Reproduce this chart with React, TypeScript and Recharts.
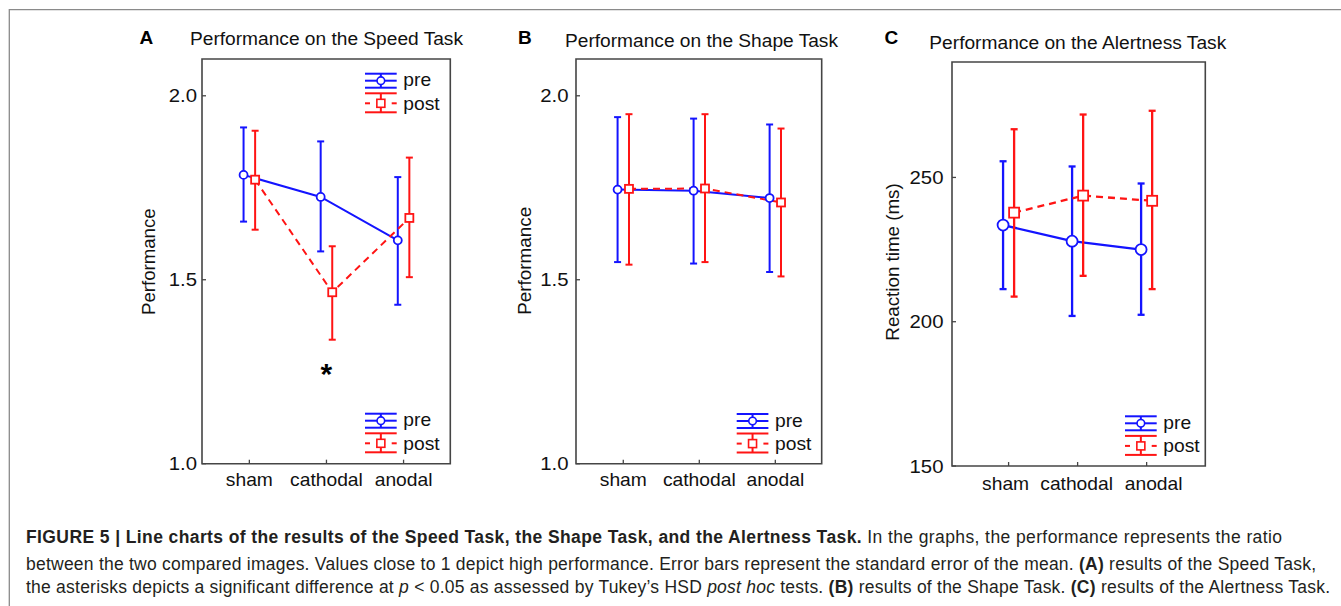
import React from 'react';
import { LineChart, Line, XAxis, YAxis, ErrorBar, ReferenceDot, ReferenceArea } from 'recharts';

const FONT = '"Liberation Sans", Arial, Helvetica, sans-serif';
const BLUE = '#1414ff';
const RED = '#ff1414';
const FRAME = '#454545';
const TEXT = '#111111';
const SX = 1.1;

// ---------- data ----------
const categories = ['sham', 'cathodal', 'anodal'];
const categoryIndex = [0, 1, 2];

// A: Speed Task
const speedPreMean = [1.785, 1.725, 1.607];
const speedPreHigh = [1.914, 1.876, 1.779];
const speedPreLow = [1.658, 1.577, 1.432];
const speedPostMean = [1.772, 1.466, 1.668];
const speedPostHigh = [1.905, 1.591, 1.832];
const speedPostLow = [1.636, 1.337, 1.507];
const speedAsterisk = { category: 1, value: 1.265 };

// B: Shape Task
const shapePreMean = [1.745, 1.742, 1.722];
const shapePreHigh = [1.942, 1.938, 1.922];
const shapePreLow = [1.548, 1.544, 1.521];
const shapePostMean = [1.747, 1.748, 1.71];
const shapePostHigh = [1.95, 1.95, 1.911];
const shapePostLow = [1.541, 1.548, 1.509];

// C: Alertness Task (ms)
const alertPreMean = [233.5, 227.9, 225.0];
const alertPreHigh = [255.6, 253.8, 247.9];
const alertPreLow = [211.3, 202.0, 202.4];
const alertPostMean = [237.8, 243.7, 241.9];
const alertPostHigh = [266.7, 271.8, 273.1];
const alertPostLow = [208.7, 215.9, 211.3];

const perfTicks = [1.0, 1.5, 2.0];
const rtTicks = [150, 200, 250];

type Pt = { x: number; y: number; err: [number, number] };

function buildSeries(means: number[], highs: number[], lows: number[], shift: number): Pt[] {
  return means.map((m, i) => ({ x: categoryIndex[i] + shift, y: m, err: [m - lows[i], highs[i] - m] }));
}

// ---------- helpers ----------
type Frame = { l: number; t: number; r: number; b: number };
const PAD = { l: 90, t: 22, r: 20, b: 42 };

function circleDot(r: number, color: string, sw: number) {
  return (p: any) => (
    <circle key={`c${p.index}`} cx={p.cx} cy={p.cy} r={r} fill="#fff" stroke={color} strokeWidth={sw} />
  );
}
function squareDot(s: number, color: string, sw: number) {
  return (p: any) => (
    <rect key={`s${p.index}`} x={p.cx - s / 2} y={p.cy - s / 2} width={s} height={s} fill="#fff" stroke={color} strokeWidth={sw} />
  );
}

interface PanelProps {
  frame: Frame;
  xDomain: [number, number];
  yDomain: [number, number];
  yTicks: number[];
  yFormat: (v: number) => string;
  pre: Pt[];
  post: Pt[];
  circleR: number;
  squareS: number;
  lineW: number;
  yGap: number;
  xBase: number;
  labelNudge: number[];
  asterisk?: { category: number; value: number };
}

function Panel(p: PanelProps) {
  const { frame } = p;
  const left = frame.l - PAD.l;
  const top = frame.t - PAD.t;
  const width = frame.r - frame.l + PAD.l + PAD.r;
  const height = frame.b - frame.t + PAD.t + PAD.b;
  const tl = { stroke: FRAME, strokeWidth: 1.3 };
  return (
    <div style={{ position: 'absolute', left, top, width, height }}>
      <LineChart
        width={width}
        height={height}
        margin={{ left: PAD.l - 50, top: PAD.t - 1, right: PAD.r, bottom: PAD.b - 30 }}
      >
        <XAxis
          xAxisId="top"
          orientation="top"
          type="number"
          domain={p.xDomain}
          ticks={categoryIndex}
          allowDataOverflow
          height={1}
          axisLine={false}
          tickLine={tl}
          tickSize={-4}
          tick={() => <g />}
          interval={0}
        />
        <XAxis
          type="number"
          dataKey="x"
          domain={p.xDomain}
          ticks={categoryIndex}
          allowDataOverflow
          height={30}
          axisLine={false}
          tickLine={tl}
          tickSize={-4}
          tickMargin={4}
          interval={0}
          tick={(t: any) => (
            <g transform={`translate(${t.x + (p.labelNudge[t.payload.value] || 0)},${t.y + p.xBase}) scale(${SX},1)`}>
              <text x={0} y={0} textAnchor="middle" fontFamily={FONT} fontSize={17.5} fill={TEXT}>
                {categories[t.payload.value]}
              </text>
            </g>
          )}
        />
        <YAxis
          type="number"
          domain={p.yDomain}
          ticks={p.yTicks}
          allowDataOverflow
          width={50}
          axisLine={false}
          tickLine={tl}
          tickSize={-4}
          tickMargin={4}
          interval={0}
          tick={(t: any) => (
            <g transform={`translate(${t.x - p.yGap},${t.y + 6.6}) scale(${SX},1)`}>
              <text x={0} y={0} textAnchor="end" fontFamily={FONT} fontSize={18.5} fill={TEXT}>
                {p.yFormat(t.payload.value)}
              </text>
            </g>
          )}
        />
        <ReferenceArea
          x1={p.xDomain[0]}
          x2={p.xDomain[1]}
          y1={p.yDomain[0]}
          y2={p.yDomain[1]}
          fill="none"
          fillOpacity={0}
          stroke={FRAME}
          strokeWidth={1.6}
          strokeOpacity={1}
        />
        <Line
          data={p.pre}
          dataKey="y"
          type="linear"
          stroke={BLUE}
          strokeWidth={p.lineW}
          isAnimationActive={false}
          dot={circleDot(p.circleR, BLUE, 1.8)}
          activeDot={false}
        >
          <ErrorBar dataKey="err" width={3.5} strokeWidth={p.lineW} stroke={BLUE} direction="y" isAnimationActive={false} />
        </Line>
        <Line
          data={p.post}
          dataKey="y"
          type="linear"
          stroke={RED}
          strokeWidth={p.lineW}
          strokeDasharray="7 5"
          isAnimationActive={false}
          dot={squareDot(p.squareS, RED, 1.8)}
          activeDot={false}
        >
          <ErrorBar dataKey="err" width={3.5} strokeWidth={p.lineW} stroke={RED} direction="y" isAnimationActive={false} />
        </Line>
        {p.asterisk && (
          <ReferenceDot
            x={p.asterisk.category}
            y={p.asterisk.value}
            r={0}
            shape={(d: any) => (
              <text x={d.cx} y={d.cy + 18} textAnchor="middle" fontFamily={FONT} fontWeight="bold" fontSize={30} fill="#000">
                *
              </text>
            )}
          />
        )}
      </LineChart>
    </div>
  );
}

function LegendMark({ x0, cy }: { x0: number; cy: number }) {
  const w = 31.7;
  const mid = x0 + w / 2;
  const sw = 2;
  return (
    <g>
      <line x1={x0} x2={x0 + w} y1={cy - 7} y2={cy - 7} stroke={BLUE} strokeWidth={sw} />
      <line x1={x0} x2={x0 + w} y1={cy + 7} y2={cy + 7} stroke={BLUE} strokeWidth={sw} />
      <line x1={mid} x2={mid} y1={cy - 7} y2={cy + 7} stroke={BLUE} strokeWidth={sw} />
      <line x1={x0} x2={x0 + w} y1={cy} y2={cy} stroke={BLUE} strokeWidth={sw} />
      <circle cx={mid} cy={cy} r={3.8} fill="#fff" stroke={BLUE} strokeWidth={1.6} />
      <line x1={x0} x2={x0 + w} y1={cy + 12.6} y2={cy + 12.6} stroke={RED} strokeWidth={sw} />
      <line x1={x0} x2={x0 + w} y1={cy + 31.6} y2={cy + 31.6} stroke={RED} strokeWidth={sw} />
      <line x1={mid} x2={mid} y1={cy + 12.6} y2={cy + 31.6} stroke={RED} strokeWidth={sw} />
      <line x1={x0} x2={x0 + 5} y1={cy + 22.6} y2={cy + 22.6} stroke={RED} strokeWidth={sw} />
      <line x1={x0 + w - 5} x2={x0 + w} y1={cy + 22.6} y2={cy + 22.6} stroke={RED} strokeWidth={sw} />
      <rect x={mid - 4} y={cy + 18.6} width={8} height={8} fill="#fff" stroke={RED} strokeWidth={1.6} />
      <g transform={`translate(${x0 + 38.3},${cy + 5.6}) scale(${SX},1)`}>
        <text x={0} y={0} fontFamily={FONT} fontSize={17.5} fill={TEXT}>pre</text>
      </g>
      <g transform={`translate(${x0 + 38.3},${cy + 28.9}) scale(${SX},1)`}>
        <text x={0} y={0} fontFamily={FONT} fontSize={17.5} fill={TEXT}>post</text>
      </g>
    </g>
  );
}

const legendPositions = [
  { x0: 365, cy: 80.7 },
  { x0: 365, cy: 420.7 },
  { x0: 736.7, cy: 421 },
  { x0: 1125, cy: 423.3 },
];

export default function App() {
  const perfFmt = (v: number) => v.toFixed(1);
  const rtFmt = (v: number) => String(v);
  return (
    <div
      style={{
        position: 'absolute',
        left: 0,
        top: 0,
        width: 1341,
        height: 606,
        background: '#fff',
        overflow: 'hidden',
        fontFamily: FONT,
      }}
    >
      <Panel
        frame={{ l: 201.7, t: 59.3, r: 450, b: 464 }}
        xDomain={[-0.614, 2.606]}
        yDomain={[1, 2.1]}
        yTicks={perfTicks}
        yFormat={perfFmt}
        pre={buildSeries(speedPreMean, speedPreHigh, speedPreLow, -0.075)}
        post={buildSeries(speedPostMean, speedPostHigh, speedPostLow, 0.075)}
        circleR={4}
        squareS={8}
        lineW={2}
        yGap={5}
        xBase={22.7}
        labelNudge={[0, 0, 0]}
        asterisk={speedAsterisk}
      />
      <Panel
        frame={{ l: 576, t: 59.3, r: 821.7, b: 464 }}
        xDomain={[-0.622, 2.61]}
        yDomain={[1, 2.1]}
        yTicks={perfTicks}
        yFormat={perfFmt}
        pre={buildSeries(shapePreMean, shapePreHigh, shapePreLow, -0.075)}
        post={buildSeries(shapePostMean, shapePostHigh, shapePostLow, 0.075)}
        circleR={4}
        squareS={8}
        lineW={2}
        yGap={7.5}
        xBase={22.7}
        labelNudge={[0, 0, 0]}
      />
      <Panel
        frame={{ l: 951.7, t: 61.7, r: 1205, b: 465.7 }}
        xDomain={[-0.82, 2.85]}
        yDomain={[150, 290]}
        yTicks={rtTicks}
        yFormat={rtFmt}
        pre={buildSeries(alertPreMean, alertPreHigh, alertPreLow, -0.08)}
        post={buildSeries(alertPostMean, alertPostHigh, alertPostLow, 0.08)}
        circleR={5.5}
        squareS={10}
        lineW={2.3}
        yGap={8.5}
        xBase={24.3}
        labelNudge={[-3, -1, 7]}
      />
      <svg
        width={1341}
        height={606}
        style={{ position: 'absolute', left: 0, top: 0, pointerEvents: 'none' }}
      >
        <line x1={9} x2={1341} y1={9.7} y2={9.7} stroke="#8a8a8a" strokeWidth={1.3} />
        <line x1={9.3} x2={9.3} y1={9} y2={606} stroke="#8a8a8a" strokeWidth={1.3} />

        <text x={139.5} y={43.5} fontFamily={FONT} fontWeight="bold" fontSize={19} fill="#000">A</text>
        <text x={518} y={43.5} fontFamily={FONT} fontWeight="bold" fontSize={19} fill="#000">B</text>
        <text x={884.5} y={43.5} fontFamily={FONT} fontWeight="bold" fontSize={19} fill="#000">C</text>

        <text x={190} y={45} fontFamily={FONT} fontSize={17.5} fill={TEXT} textLength={273} lengthAdjust="spacingAndGlyphs">
          Performance on the Speed Task
        </text>
        <text x={565} y={47.3} fontFamily={FONT} fontSize={17.5} fill={TEXT} textLength={273} lengthAdjust="spacingAndGlyphs">
          Performance on the Shape Task
        </text>
        <text x={929.3} y={49.3} fontFamily={FONT} fontSize={17.5} fill={TEXT} textLength={297} lengthAdjust="spacingAndGlyphs">
          Performance on the Alertness Task
        </text>

        <text transform="translate(154.5,261.7) rotate(-90)" x={0} y={0} textAnchor="middle" fontFamily={FONT} fontSize={18} fill={TEXT} textLength={106.7} lengthAdjust="spacingAndGlyphs">
          Performance
        </text>
        <text transform="translate(531,260.8) rotate(-90)" x={0} y={0} textAnchor="middle" fontFamily={FONT} fontSize={18} fill={TEXT} textLength={108} lengthAdjust="spacingAndGlyphs">
          Performance
        </text>
        <text transform="translate(899,262) rotate(-90)" x={0} y={0} textAnchor="middle" fontFamily={FONT} fontSize={18} fill={TEXT} textLength={157.3} lengthAdjust="spacingAndGlyphs">
          Reaction time (ms)
        </text>

        {legendPositions.map((lp, i) => (
          <LegendMark key={i} x0={lp.x0} cy={lp.cy} />
        ))}

        <text x={26} y={543} fontFamily={FONT} fontSize={17.5} fill="#231f20" textLength={1256} lengthAdjust="spacing">
          <tspan fontWeight="bold">{'FIGURE 5 | Line charts of the results of the Speed Task, the Shape Task, and the Alertness Task.'}</tspan>
          <tspan>{' In the graphs, the performance represents the ratio'}</tspan>
        </text>
        <text x={26} y={569.5} fontFamily={FONT} fontSize={17.5} fill="#231f20" textLength={1290} lengthAdjust="spacing">
          <tspan>{'between the two compared images. Values close to 1 depict high performance. Error bars represent the standard error of the mean. '}</tspan>
          <tspan fontWeight="bold">{'(A)'}</tspan>
          <tspan>{' results of the Speed Task,'}</tspan>
        </text>
        <text x={26} y={592.5} fontFamily={FONT} fontSize={17.5} fill="#231f20" textLength={1304} lengthAdjust="spacing">
          <tspan>{'the asterisks depicts a significant difference at '}</tspan>
          <tspan fontStyle="italic">{'p'}</tspan>
          <tspan>{' < 0.05 as assessed by Tukey’s HSD '}</tspan>
          <tspan fontStyle="italic">{'post hoc'}</tspan>
          <tspan>{' tests. '}</tspan>
          <tspan fontWeight="bold">{'(B)'}</tspan>
          <tspan>{' results of the Shape Task. '}</tspan>
          <tspan fontWeight="bold">{'(C)'}</tspan>
          <tspan>{' results of the Alertness Task.'}</tspan>
        </text>
      </svg>
    </div>
  );
}
